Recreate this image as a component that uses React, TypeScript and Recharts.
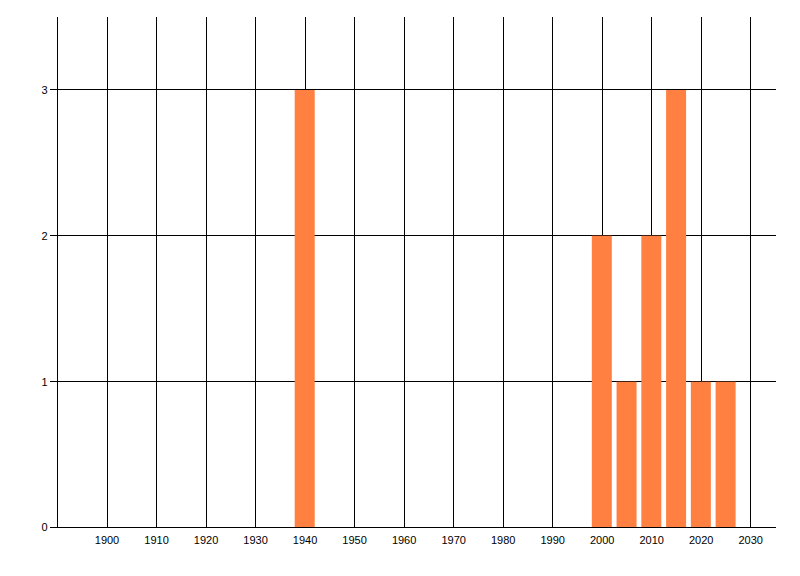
import { BarChart, Bar, XAxis, YAxis, CartesianGrid } from 'recharts'

const years = [1940, 2000, 2005, 2010, 2015, 2020, 2025]
const counts = [3, 2, 1, 2, 3, 1, 1]
const yearTicks = [1900, 1910, 1920, 1930, 1940, 1950, 1960, 1970, 1980, 1990, 2000, 2010, 2020, 2030]
const countTicks = [0, 1, 2, 3]

const data = years.map((year, i) => ({ year, count: counts[i] }))

const tickStyle = { fontSize: 11, fill: '#000', fontFamily: '"Liberation Sans", Arial, sans-serif' }

export default function App() {
  return (
    <div style={{ position: 'absolute', left: 0, top: 0, width: 800, height: 576, background: '#fff' }}>
      <style>{'.recharts-surface line { shape-rendering: crispEdges; }'}</style>
      <BarChart
        width={800}
        height={576}
        data={data}
        margin={{ top: 17, right: 24.5, bottom: 18.5, left: 0 }}
      >
        <CartesianGrid stroke="#000" strokeWidth={1} syncWithTicks />
        <XAxis
          dataKey="year"
          type="number"
          domain={[1890, 2035]}
          ticks={yearTicks}
          allowDataOverflow
          tickLine={false}
          tickSize={0}
          tickMargin={9}
          height={30}
          axisLine={{ stroke: '#000' }}
          tick={tickStyle}
        />
        <YAxis
          type="number"
          domain={[0, 3.5]}
          ticks={countTicks}
          allowDataOverflow
          width={57.5}
          tickSize={8}
          tickMargin={2}
          tickLine={{ stroke: '#000' }}
          axisLine={{ stroke: '#000' }}
          tick={tickStyle}
        />
        <Bar dataKey="count" fill="#FF8040" barSize={20} isAnimationActive={false} />
      </BarChart>
    </div>
  )
}
